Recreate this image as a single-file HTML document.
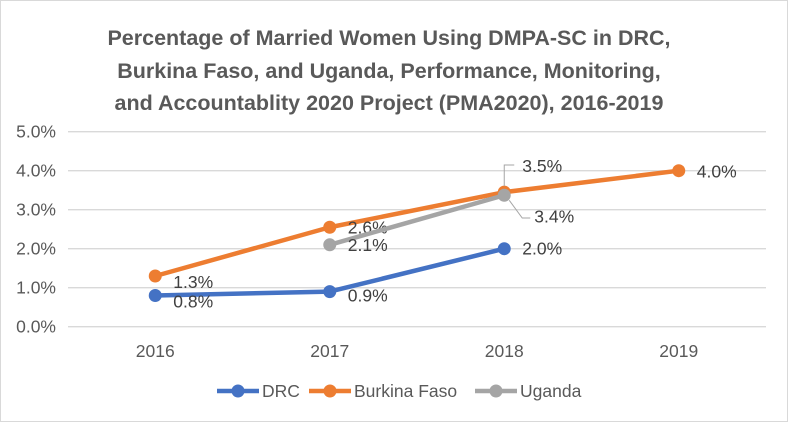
<!DOCTYPE html>
<html><head><meta charset="utf-8"><style>
body{margin:0;background:#fff;}
svg{display:block;font-family:"Liberation Sans",Arial,sans-serif;}
</style></head><body>
<svg id="chart" width="789" height="422">
<rect x="0.5" y="0.5" width="787" height="421" fill="#fff" stroke="#d9d9d9"/>
<g font-weight="bold" font-size="21.5" fill="#595959" text-anchor="middle">
<text x="389" y="45">Percentage of Married Women Using DMPA-SC in DRC,</text>
<text x="389" y="78">Burkina Faso, and Uganda, Performance, Monitoring,</text>
<text x="389" y="110">and Accountablity 2020 Project (PMA2020), 2016-2019</text>
</g>
<g id="grid"></g><g id="xlab"></g><g id="series"></g><g id="legend"></g>
</svg>
<script>
const categories=["2016","2017","2018","2019"];
const yTicks=[0,1,2,3,4,5];
const drc=[0.8,0.9,2.0,null];
const burkina=[1.3,2.55,3.45,4.0];
const uganda=[null,2.1,3.37,null];
const drcLabels=["0.8%","0.9%","2.0%",""];
const burkinaLabels=["1.3%","2.6%","3.5%","4.0%"];
const ugandaLabels=["","2.1%","3.4%",""];
const NS="http://www.w3.org/2000/svg";
const L=68,R=766,T=131.7,B=326.7;
const xs=i=>L+(R-L)/categories.length*(i+0.5);
const ys=v=>B-(B-T)*v/5;
function mk(tag,attrs,parent,txt){const e=document.createElementNS(NS,tag);for(const k in attrs)e.setAttribute(k,attrs[k]);if(txt!==undefined)e.textContent=txt;parent.appendChild(e);return e;}
const grid=document.getElementById('grid');
yTicks.forEach(t=>{
 const l=mk('line',{x1:L,x2:R,y1:ys(t),y2:ys(t),stroke:'#d9d9d9','stroke-width':1.3},grid);
 
 
 const tx=mk('text',{x:56,y:ys(t)+6,'text-anchor':'end','font-size':17.5,fill:'#595959'},grid,t.toFixed(1)+'%');
 
 
});
const xl=document.getElementById('xlab');
categories.forEach((c,i)=>{
 const tx=mk('text',{x:xs(i),y:357,'text-anchor':'middle','font-size':17.5,fill:'#595959'},xl,c);
 
 
});
const sg=document.getElementById('series');
function drawSeries(vals,labels,color,name,offs){
 const g=mk('g',{},sg);
 
 
 const pts=[];vals.forEach((v,i)=>{if(v!==null)pts.push([xs(i),ys(v),i]);});
 const pl=mk('polyline',{points:pts.map(p=>p[0]+','+p[1]).join(' '),fill:'none',stroke:color,'stroke-width':4.5,'stroke-linejoin':'round'},g);
 
 
 pts.forEach(p=>{
  const c=mk('circle',{cx:p[0],cy:p[1],r:6.5,fill:color},g);
  
  
  const o=offs[p[2]];
  const t=mk('text',{x:p[0]+o[0],y:p[1]+o[1],'font-size':17.5,fill:'#404040'},g,labels[p[2]]);
  
  
 });
}
drawSeries(burkina,burkinaLabels,'#ed7d31','burkina-faso',[[18,12],[18,6],[18,-20],[18,7]]);
drawSeries(uganda,ugandaLabels,'#a5a5a5','uganda',[[0,0],[18,6],[30,27],[0,0]]);
drawSeries(drc,drcLabels,'#4472c4','drc',[[18,12],[18,10],[18,6],[0,0]]);
const ld1=mk('polyline',{points:`${xs(2)},${ys(3.45)-6} ${xs(2)},165 ${xs(2)+10},165`,fill:'none',stroke:'#a6a6a6','stroke-width':1},sg);


const ld2=mk('polyline',{points:`${xs(2)+5},${ys(3.37)+5} ${xs(2)+18},218 ${xs(2)+26},218`,fill:'none',stroke:'#a6a6a6','stroke-width':1},sg);


const lg=document.getElementById('legend');
const legendItems=[["DRC","#4472c4",217],["Burkina Faso","#ed7d31",309],["Uganda","#a5a5a5",475]];
legendItems.forEach(([n,c,x])=>{
 const g=mk('g',{},lg);
 
 
 mk('line',{x1:x,x2:x+42,y1:391,y2:391,stroke:c,'stroke-width':4.5},g);
 mk('circle',{cx:x+21,cy:391,r:6.5,fill:c},g);
 mk('text',{x:x+45,y:397,'font-size':17.5,fill:'#595959'},g,n);
});
</script>
</body></html>
